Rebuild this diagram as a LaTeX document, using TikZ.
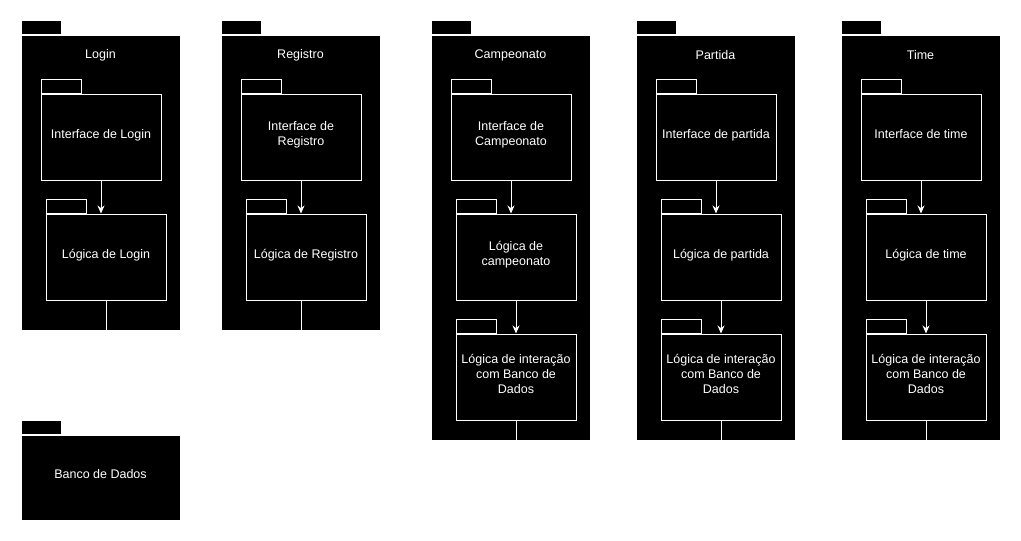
\documentclass[tikz,border=0pt]{standalone}
\usepackage{fontspec}
\setmainfont{Liberation Sans}
\usetikzlibrary{positioning,arrows.meta}
\begin{document}
\begin{tikzpicture}[x=1pt,y=-1pt]
  \tikzset{ pk/.style={draw=white,fill=black,line width=1pt,text=white,align=center,
      inner sep=0pt,text depth=7pt,font=\fontsize{12.5}{15}\selectfont},
    tab/.style={draw=white,fill=black,line width=1pt,anchor=south west,inner sep=0pt,
      text depth=0pt,minimum width=40pt,minimum height=14pt},
    box/.style={pk,minimum width=120pt,minimum height=86pt},
    frame/.style={pk,minimum width=159pt},
    ttl/.style={text=white,font=\fontsize{12.5}{15}\selectfont},
    dep/.style={draw=white,line width=1pt,-{Stealth[length=8pt,width=7pt]}},
    wire/.style={draw=white,line width=1pt},
  }
  \useasboundingbox[fill=white] (0,0) rectangle (1021,541);

  % the outer packages
  \node[frame,minimum height=295pt] (login) at (100.5,182.5) {};
  \node[tab] (logintab) at (login.north west) {};
  \node[ttl] (logint) at (100.5,55) {Login};
  \node[frame,minimum height=295pt] (reg) at (300.5,182.5) {};
  \node[tab] (regtab) at (reg.north west) {};
  \node[ttl] (regt) at (300.5,55) {Registro};
  \node[frame,minimum height=405pt] (camp) at (510.5,237.5) {};
  \node[tab] (camptab) at (camp.north west) {};
  \node[ttl] (campt) at (510.5,55) {Campeonato};
  \node[frame,minimum height=405pt] (part) at (715.5,237.5) {};
  \node[tab] (parttab) at (part.north west) {};
  \node[ttl] (partt) at (715.5,55) {Partida};
  \node[frame,minimum height=405pt] (time) at (920.5,237.5) {};
  \node[tab] (timetab) at (time.north west) {};
  \node[ttl] (timet) at (920.5,55) {Time};
  \node[frame,minimum height=85pt] (bd) at (100.5,477.5) {Banco de Dados};
  \node[tab] (bdtab) at (bd.north west) {};

  % the inner packages
  \node[box] (li) at (101,137) {Interface de Login};
  \node[tab] at (li.north west) {};
  \node[box] (ll) at (106,257) {Lógica de Login};
  \node[tab] at (ll.north west) {};
  \node[box] (ri) at (301,137) {Interface de\\Registro};
  \node[tab] at (ri.north west) {};
  \node[box] (rl) at (306,257) {Lógica de Registro};
  \node[tab] at (rl.north west) {};
  \node[box] (ci) at (511,137) {Interface de\\Campeonato};
  \node[tab] at (ci.north west) {};
  \node[box] (cl) at (516,257) {Lógica de\\campeonato};
  \node[tab] at (cl.north west) {};
  \node[box] (cb) at (516,377) {Lógica de interação\\com Banco de\\Dados};
  \node[tab] at (cb.north west) {};
  \node[box] (pi) at (716,137) {Interface de partida};
  \node[tab] at (pi.north west) {};
  \node[box] (pl) at (721,257) {Lógica de partida};
  \node[tab] at (pl.north west) {};
  \node[box] (pb) at (721,377) {Lógica de interação\\com Banco de\\Dados};
  \node[tab] at (pb.north west) {};
  \node[box] (ti) at (921,137) {Interface de time};
  \node[tab] at (ti.north west) {};
  \node[box] (tl) at (926,257) {Lógica de time};
  \node[tab] at (tl.north west) {};
  \node[box] (tb) at (926,377) {Lógica de interação\\com Banco de\\Dados};
  \node[tab] at (tb.north west) {};

  % the connection between the packages
  \draw[dep] (li) -- (li.south |- ll.north);
  \draw[dep] (ri) -- (ri.south |- rl.north);
  \draw[dep] (ci) -- (ci.south |- cl.north);
  \draw[dep] (cl) -- (cb);
  \draw[dep] (pi) -- (pi.south |- pl.north);
  \draw[dep] (pl) -- (pb);
  \draw[dep] (ti) -- (ti.south |- tl.north);
  \draw[dep] (tl) -- (tb);
  \coordinate (rlout) at ([xshift=-5pt]rl.south);
  \draw[wire] (ll.south) -- (ll.south |- login.south);
  \draw[wire] (rlout) -- (rlout |- reg.south);
  \draw[wire] (cb.south) -- (cb.south |- camp.south);
  \draw[wire] (pb.south) -- (pb.south |- part.south);
  \draw[wire] (tb.south) -- (tb.south |- time.south);
\end{tikzpicture}
\end{document}
